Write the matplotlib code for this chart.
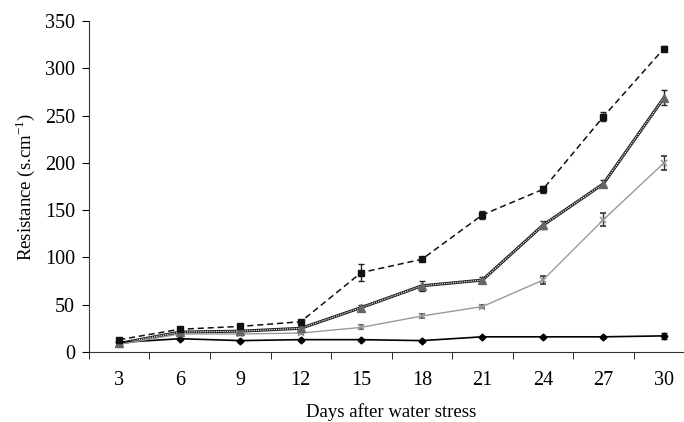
import numpy as np
import matplotlib.pyplot as plt

plt.rcParams['font.family'] = ['Liberation Serif', 'DejaVu Serif']

days = [3, 6, 9, 12, 15, 18, 21, 24, 27, 30]
sq = [13, 24, 27, 32, 84, 98, 145, 172, 249, 321]
sq_err = [1, 1, 1, 1, 9, 2, 4, 4, 5, 3]
tri = [9, 21, 22, 25, 47, 70, 76, 134, 178, 269]
tri_err = [1, 2, 2, 2, 3, 5, 3, 4, 4, 8]
xs = [8, 19, 19, 20, 26, 38, 48, 76, 140, 200]
xs_err = [1, 1, 1, 1, 2, 2, 2, 4, 7, 7]
dia = [10, 14, 12, 13, 13, 12, 16, 16, 16, 17]
dia_err = [1, 1, 1, 1, 1, 1, 1, 1, 1, 3]

fig = plt.figure(figsize=(6.84, 4.22), dpi=100)
ax = fig.add_axes([0.130, 0.166, 0.885, 0.784])
pos = np.arange(len(days))

# diamond series
ax.errorbar(pos, dia, yerr=dia_err, color='black', lw=1.2, marker='D', ms=3.5,
            capsize=2, elinewidth=1, zorder=3)
# x series
ax.errorbar(pos, xs, yerr=xs_err, color='#999999', lw=1, marker='x', ms=4.5,
            mew=1.2, ecolor='#333333', capsize=2, elinewidth=1, zorder=3)
# triangle series: hatched looking line
ax.plot(pos, tri, color='#222222', lw=2.2, zorder=3)
ax.plot(pos, tri, color='white', lw=0.8, ls=(0, (1, 1)), zorder=3)
ax.errorbar(pos, tri, yerr=tri_err, color='#666666', ls='none', marker='^', ms=5.5,
            ecolor='#222222', capsize=2, elinewidth=1, zorder=4)
# square series
ax.errorbar(pos, sq, yerr=sq_err, color='#111111', lw=1.1, ls=(0, (4, 2.5)), marker='s', ms=5,
            ecolor='#222222', capsize=2, elinewidth=1, zorder=4)

ax.set_xlim(-0.5, 9.5)
ax.set_ylim(0, 350)
ax.set_yticks(range(0, 351, 50))
ax.set_xticks(pos)
ax.set_xticklabels(days)
ax.set_xticks(np.arange(-0.5, 10, 1), minor=True)
ax.tick_params(axis='x', which='major', length=0, pad=14)
ax.tick_params(axis='x', which='minor', length=5, direction='out')
ax.tick_params(axis='y', length=5, direction='out', pad=5)
ax.tick_params(labelsize=14.5)
for s in ['top', 'right']:
    ax.spines[s].set_visible(False)
for s in ['left', 'bottom']:
    ax.spines[s].set_color('#333333')

ax.set_ylabel('Resistance (s.cm$^{\\mathregular{-1}}$)', fontsize=13.5, labelpad=6)
ax.set_xlabel('Days after water stress', fontsize=13.5, labelpad=9)

fig.savefig('out.png', dpi=100)
